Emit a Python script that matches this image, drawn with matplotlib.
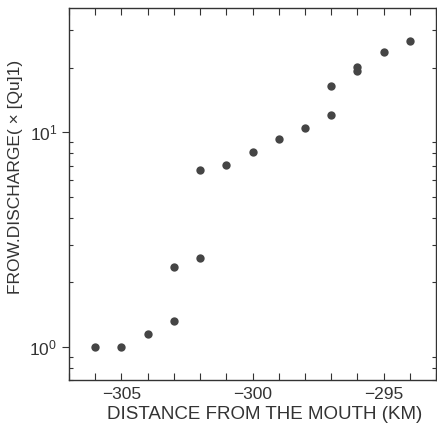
import numpy as np
import matplotlib
matplotlib.use('Agg')
import matplotlib.pyplot as plt
from matplotlib.ticker import LogLocator, MultipleLocator, NullFormatter

# distance from the mouth (km) and flow discharge
distance = [-306, -305, -304, -303, -303, -302, -302, -301, -300, -299,
            -298, -297, -297, -296, -296, -295, -294]
discharge = [1.0, 1.0, 1.15, 1.32, 2.36, 2.6, 6.67, 7.06, 8.06, 9.27,
             10.5, 12.0, 16.4, 19.2, 20.1, 23.6, 26.5]
x_major = [-305, -300, -295]

plt.rcParams['font.family'] = ['Liberation Sans', 'DejaVu Sans']
ink = '#333333'

fig = plt.figure(figsize=(4.37, 4.36), dpi=100)
ax = fig.add_axes([0.158, 0.128, 0.84, 0.854])

ax.semilogy(distance, discharge, 'o', color='#454545', markersize=6, markeredgewidth=0)

ax.set_xlim(-307, -293)
ax.set_ylim(0.7, 38)
ax.set_xticks(x_major)
ax.set_xticklabels(['\u2212305', '\u2212300', '\u2212295'])
ax.xaxis.set_minor_locator(MultipleLocator(1))
ax.yaxis.set_major_locator(LogLocator(base=10))
ax.yaxis.set_minor_locator(LogLocator(base=10, subs=np.arange(2, 10)))
ax.yaxis.set_minor_formatter(NullFormatter())

for s in ax.spines.values():
    s.set_color(ink)
    s.set_linewidth(1.0)

ax.tick_params(axis='x', which='both', direction='in', top=True, length=5, width=0.8,
               colors=ink, labelsize=12.5, pad=5)
ax.tick_params(axis='y', which='major', direction='out', length=5, width=0.8,
               colors=ink, labelsize=12.5)
ax.tick_params(axis='y', which='minor', direction='in', length=3, width=0.8, colors=ink)
ax.tick_params(axis='y', which='both', right=True)

ax.set_xlabel('DISTANCE FROM THE MOUTH (KM)', fontsize=13.5, color=ink, va='center')
ax.xaxis.set_label_coords(0.534, -0.092)
ax.set_ylabel('FROW.DISCHARGE( \u00d7 [Qu]1)', fontsize=12.5, color=ink, va='center')
ax.yaxis.set_label_coords(-0.145, 0.546)

plt.savefig('out.png', dpi=100)
